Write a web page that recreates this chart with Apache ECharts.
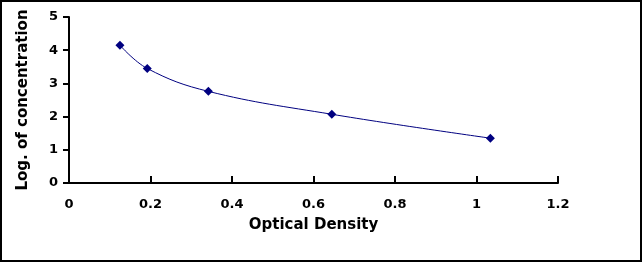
<!DOCTYPE html>
<html>
<head>
<meta charset="utf-8">
<script src="https://cdn.jsdelivr.net/npm/echarts@6/dist/echarts.min.js"></script>
<style>
  html, body { margin: 0; padding: 0; background: #fff; }
  #frame { position: absolute; left: 0; top: 0; width: 638px; height: 258px; border: 2px solid #000; background: #fff; }
  #chart { position: absolute; left: 0; top: 0; width: 642px; height: 262px; }
</style>
</head>
<body>
<div id="frame"></div>
<div id="chart"></div>
<script>
// standard curve points
const odValues = [0.125, 0.192, 0.342, 0.645, 1.034]
const logConc = [4.15, 3.45, 2.76, 2.07, 1.35]
const xTitle = 'Optical Density'
const yTitle = 'Log. of concentration'

const font = '"DejaVu Sans", sans-serif'
const points = odValues.map((x, i) => [x, logConc[i]])

const chart = echarts.init(document.getElementById('chart'))
chart.setOption({
  animation: false,
  grid: { left: 69, top: 17, right: 84, bottom: 79 },
  xAxis: {
    type: 'value', min: 0, max: 1.2, interval: 0.2,
    name: xTitle, nameLocation: 'middle', nameGap: 35,
    nameTextStyle: { color: '#000', fontWeight: 'bold', fontSize: 15, fontFamily: font },
    axisLine: { lineStyle: { color: '#000', width: 2 } },
    axisTick: { inside: true, length: 7, lineStyle: { color: '#000', width: 2 } },
    axisLabel: { color: '#000', fontWeight: 'bold', fontSize: 13, fontFamily: font, margin: 15,
      formatter: v => String(Math.round(v * 10) / 10) },
    splitLine: { show: false }
  },
  yAxis: {
    type: 'value', min: 0, max: 5, interval: 1,
    name: yTitle, nameLocation: 'middle', nameGap: 38, nameRotate: 90,
    nameTextStyle: { color: '#000', fontWeight: 'bold', fontSize: 15, fontFamily: font },
    axisLine: { show: true, lineStyle: { color: '#000', width: 2 } },
    axisTick: { show: true, length: 6, lineStyle: { color: '#000', width: 2 } },
    axisLabel: { color: '#000', fontWeight: 'bold', fontSize: 13, fontFamily: font, margin: 11 },
    splitLine: { show: false }
  },
  series: [{
    type: 'line',
    data: points,
    smooth: 0.4,
    symbol: 'diamond',
    symbolSize: 9,
    itemStyle: { color: '#000080' },
    lineStyle: { color: '#000080', width: 1 }
  }]
})
</script>
</body>
</html>
